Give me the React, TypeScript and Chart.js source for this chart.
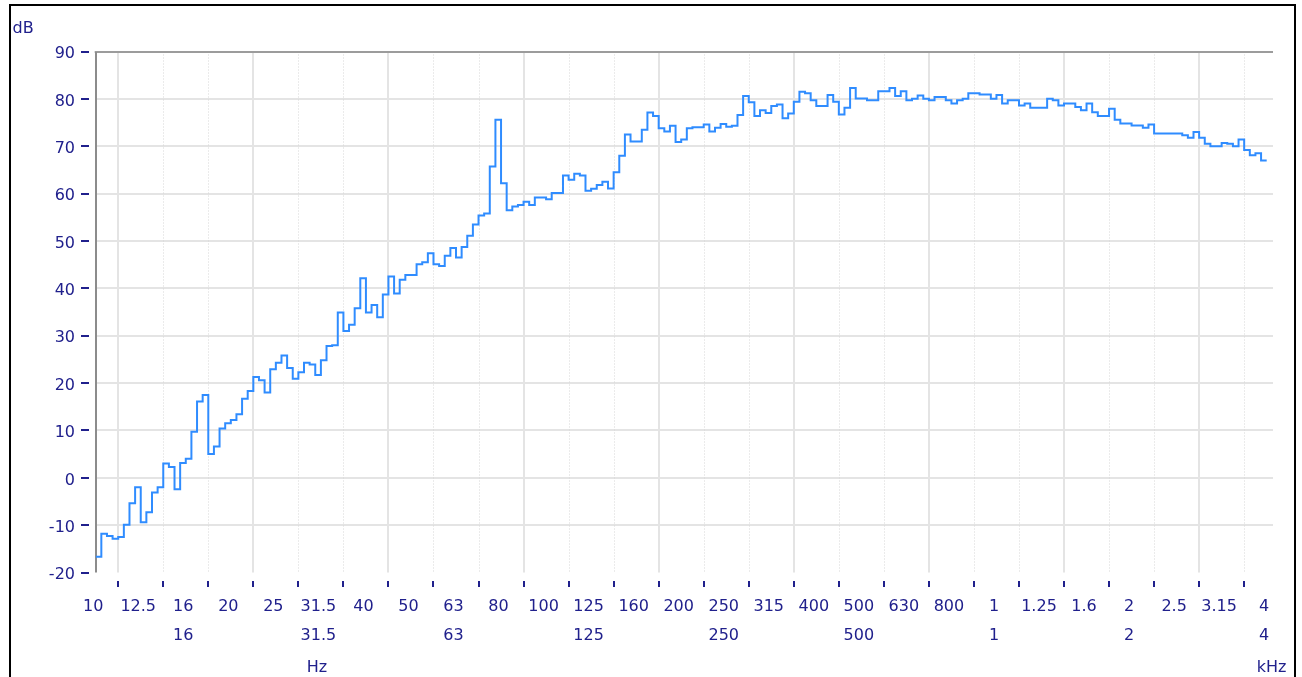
import { useEffect, useRef } from "react";
import { Chart, registerables } from "chart.js";

Chart.register(...registerables);

// 1/24-octave bins, expressed in third-octave band units (10 Hz band = 0)
const BIN_WIDTH = 0.125;

// Level of each 1/24-octave bin, dB, from the 10 Hz band centre upwards
const levels = [
  -16.7, -11.8, -12.3, -12.9, -12.5, -9.9, -5.4, -2.0,
  -9.4, -7.3, -3.1, -2.0, 3.0, 2.3, -2.4, 3.1,
  4.0, 9.7, 16.1, 17.5, 5.0, 6.6, 10.4, 11.5,
  12.2, 13.4, 16.7, 18.3, 21.3, 20.6, 18.0, 22.9,
  24.3, 25.8, 23.2, 20.9, 22.3, 24.3, 23.9, 21.7,
  24.8, 27.8, 28.0, 34.9, 31.0, 32.3, 35.8, 42.1,
  34.9, 36.5, 33.9, 38.7, 42.5, 38.9, 41.8, 42.8,
  42.8, 45.1, 45.5, 47.4, 45.1, 44.7, 46.9, 48.5,
  46.5, 48.7, 51.1, 53.5, 55.4, 55.8, 65.7, 75.6,
  62.2, 56.5, 57.3, 57.6, 58.3, 57.6, 59.2, 59.2,
  58.8, 60.1, 60.1, 63.8, 62.9, 64.2, 63.8, 60.6,
  61.0, 61.8, 62.5, 61.1, 64.5, 68.0, 72.5, 71.0,
  71.0, 73.5, 77.1, 76.4, 73.8, 73.1, 74.3, 70.9,
  71.4, 73.8, 74.0, 74.0, 74.6, 73.1, 73.9, 74.7,
  74.1, 74.3, 76.6, 80.6, 79.3, 76.4, 77.6, 77.0,
  78.5, 78.8, 75.9, 76.9, 79.4, 81.5, 81.2, 79.7,
  78.5, 78.5, 80.8, 79.4, 76.7, 78.1, 82.3, 80.1,
  80.1, 79.7, 79.7, 81.6, 81.6, 82.3, 80.6, 81.6,
  79.7, 80.0, 80.7, 80.0, 79.7, 80.4, 80.4, 79.7,
  79.0, 79.7, 80.0, 81.2, 81.2, 80.9, 80.9, 80.0,
  80.8, 79.0, 79.7, 79.7, 78.6, 79.0, 78.1, 78.1,
  78.1, 80.0, 79.7, 78.6, 79.0, 79.0, 78.3, 77.6,
  79.0, 77.2, 76.4, 76.4, 77.9, 75.6, 74.8, 74.8,
  74.4, 74.4, 73.9, 74.6, 72.7, 72.7, 72.7, 72.7,
  72.7, 72.3, 71.8, 73.0, 71.8, 70.5, 70.0, 70.0,
  70.7, 70.5, 70.0, 71.4, 69.2, 68.1, 68.5, 67.0,
];

// Third-octave band centre labels (Hz up to 800, kHz from 1)
const bandLabels = [
  "10", "12.5", "16", "20", "25", "31.5", "40", "50", "63", "80", "100", "125", "160",
  "200", "250", "315", "400", "500", "630", "800", "1", "1.25", "1.6", "2", "2.5", "3.15", "4",
];

// Octave band centres shown on the second label row
const octaveBands = [2, 5, 8, 11, 14, 17, 20, 23, 26];
const octaveLabels = ["16", "31.5", "63", "125", "250", "500", "1", "2", "4"];

const yTicks = [90, 80, 70, 60, 50, 40, 30, 20, 10, 0, -10, -20];

const TEXT = "#20208c";
const FONT = "16px 'DejaVu Sans', Verdana, sans-serif";

const decor = {
  id: "decor",
  beforeDatasetsDraw(chart: any) {
    const { ctx, chartArea: a, scales } = chart;
    const x = scales.x;
    const y = scales.y;
    ctx.save();
    // horizontal grid
    ctx.strokeStyle = "#e4e4e4";
    ctx.lineWidth = 2;
    for (const v of yTicks) {
      if (v >= 90 || v <= -20) continue;
      const py = Math.round(y.getPixelForValue(v));
      ctx.beginPath();
      ctx.moveTo(a.left, py);
      ctx.lineTo(a.right, py);
      ctx.stroke();
    }
    // vertical grid at band edges: solid on octave edges, dotted otherwise
    for (let n = 0; n < bandLabels.length - 1; n++) {
      const px = x.getPixelForValue(n + 0.5);
      ctx.beginPath();
      if (n % 3 === 0) {
        ctx.strokeStyle = "#e4e4e4";
        ctx.lineWidth = 2;
        ctx.setLineDash([]);
        ctx.moveTo(Math.round(px), a.top);
        ctx.lineTo(Math.round(px), a.bottom);
      } else {
        ctx.strokeStyle = "#d6d6d6";
        ctx.lineWidth = 1;
        ctx.setLineDash([1, 2]);
        ctx.moveTo(Math.round(px) + 0.5, a.top);
        ctx.lineTo(Math.round(px) + 0.5, a.bottom);
      }
      ctx.stroke();
    }
    ctx.setLineDash([]);
    // top border line and left axis
    ctx.strokeStyle = "#9c9c9c";
    ctx.lineWidth = 2;
    const top = Math.round(y.getPixelForValue(90));
    ctx.beginPath();
    ctx.moveTo(a.left - 1, top);
    ctx.lineTo(a.right, top);
    ctx.stroke();
    ctx.strokeStyle = "#8c8c8c";
    ctx.beginPath();
    ctx.moveTo(Math.round(a.left), top);
    ctx.lineTo(Math.round(a.left), a.bottom);
    ctx.stroke();
    ctx.restore();
  },
  afterDraw(chart: any) {
    const { ctx, chartArea: a, scales } = chart;
    const x = scales.x;
    const y = scales.y;
    ctx.save();
    ctx.fillStyle = TEXT;
    ctx.font = FONT;
    ctx.textBaseline = "alphabetic";

    // y labels with dash marks
    ctx.textAlign = "right";
    for (const v of yTicks) {
      const py = y.getPixelForValue(v);
      ctx.fillText(String(v), 75, py + 6.8);
      ctx.fillRect(81, Math.round(py) - 1, 8, 2);
    }

    // x tick marks at band edges
    for (let n = 0; n < bandLabels.length - 1; n++) {
      const px = Math.round(x.getPixelForValue(n + 0.5));
      ctx.fillRect(px - 1, a.bottom + 8.5, 2, 6);
    }

    // band labels
    ctx.textAlign = "center";
    bandLabels.forEach((t, i) => {
      ctx.fillText(t, x.getPixelForValue(i) - 2.5, 610.5);
    });
    octaveBands.forEach((b, i) => {
      ctx.fillText(octaveLabels[i], x.getPixelForValue(b) - 2.5, 639.5);
    });

    // units
    ctx.fillText("Hz", 317, 672);
    ctx.fillText("kHz", 1271.5, 672);
    ctx.textAlign = "left";
    ctx.fillText("dB", 12.5, 33.3);
    ctx.restore();
  },
};

export default function App() {
  const canvasRef = useRef<HTMLCanvasElement | null>(null);

  useEffect(() => {
    document.body.style.margin = "0";
    const canvas = canvasRef.current;
    if (!canvas) return;

    const points = levels.map((v, k) => ({ x: k * BIN_WIDTH, y: v }));
    points.push({ x: levels.length * BIN_WIDTH, y: levels[levels.length - 1] });

    const chart = new Chart(canvas, {
      type: "line",
      data: {
        datasets: [
          {
            data: points,
            stepped: true,
            borderColor: "#2f8cff",
            borderWidth: 2,
            pointRadius: 0,
            fill: false,
          },
        ],
      },
      options: {
        animation: false,
        responsive: false,
        devicePixelRatio: 1,
        layout: { padding: { left: 95.7, top: 51.5, right: 29, bottom: 104.5 } },
        plugins: { legend: { display: false }, tooltip: { enabled: false } },
        scales: {
          x: { type: "linear", min: 0, max: 26.14, display: false },
          y: { type: "linear", min: -20, max: 90, display: false },
        },
      },
      plugins: [decor],
    });
    return () => chart.destroy();
  }, []);

  return (
    <div style={{ position: "relative", width: 1302, height: 677, background: "#fff", overflow: "hidden" }}>
      <canvas
        ref={canvasRef}
        width={1302}
        height={677}
        style={{ position: "absolute", left: 0, top: 0, width: 1302, height: 677 }}
      />
      <div
        style={{
          position: "absolute",
          left: 9,
          top: 4,
          width: 1287,
          height: 700,
          border: "2px solid #000",
          boxSizing: "border-box",
          pointerEvents: "none",
        }}
      />
    </div>
  );
}
